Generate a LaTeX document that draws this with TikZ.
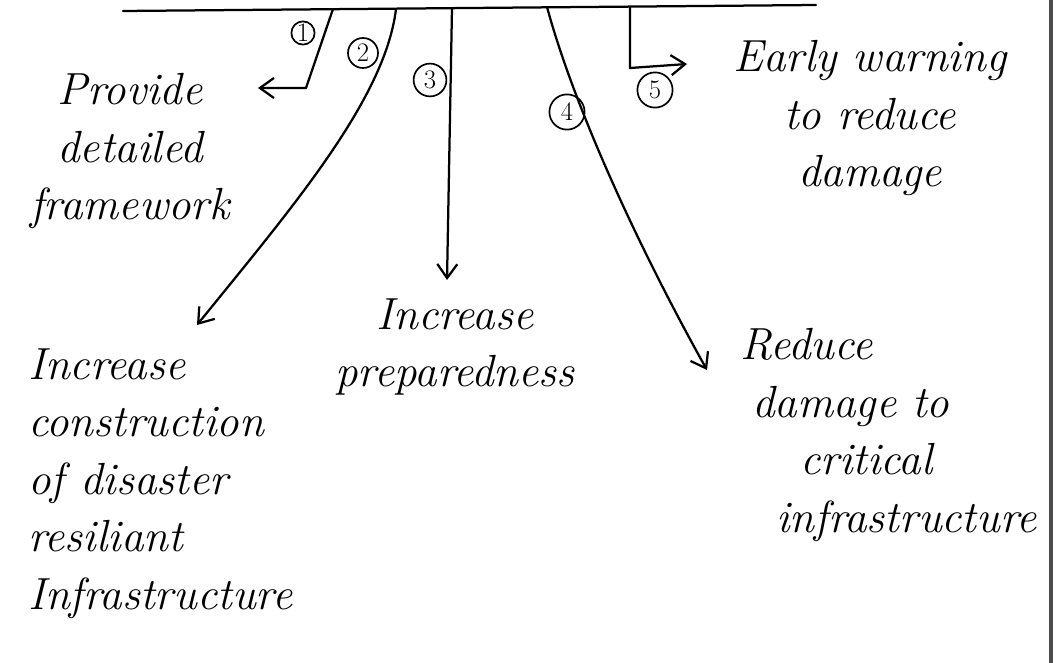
\documentclass[tikz,border=0pt]{standalone}
\usepackage{tikz}
\usetikzlibrary{arrows.meta}

\begin{document}
\begin{tikzpicture}[x=0.025cm, y=-0.025cm,
  lbl/.style={font=\fontsize{32}{41}\selectfont\itshape, inner sep=0pt},
  num/.style={draw, circle, line width=1.2pt, inner sep=0pt, font=\fontsize{19}{19}\selectfont},
  pen/.style={line width=1.6pt, line cap=round, line join=round},
  arr/.style={pen, -{Straight Barb[length=3.5mm, width=5mm]}}
]
\useasboundingbox (0,0) rectangle (1058,663);
\coordinate (tl) at (123,11); \coordinate (tr) at (816,5);
\draw[pen] (tl) -- (tr);
\draw[line width=3pt, black!70] (1051,0) -- (1051,663);
\coordinate (b1) at (333,9); \coordinate (k1) at (306,88); \coordinate (e1) at (258,88);
\coordinate (b2) at (396,9); \coordinate (e2) at (197,325);
\coordinate (b3) at (452,8); \coordinate (e3) at (447,280);
\coordinate (b4) at (547,7); \coordinate (e4) at (707,370);
\coordinate (b5) at (630,7); \coordinate (k5) at (630,68); \coordinate (e5) at (687,64);
\draw[arr] (b1) -- (k1) -- (e1);
\draw[arr] (b2) .. controls (385,100) and (290,210) .. (e2);
\draw[arr] (b3) -- (e3);
\draw[arr] (b4) .. controls (575,110) and (640,250) .. (e4);
\draw[arr] (b5) -- (k5) -- (e5);
\foreach \n/\x/\y/\s in {1/303/33/0.58cm, 2/363/53/0.75cm, 3/430/80/0.82cm, 4/567/112/0.88cm, 5/655/90/0.88cm} {
  \node[num, minimum size=\s] (c\n) at (\x,\y) {\n};
}
\node[lbl, align=center, anchor=north] (prov) at (130,73) {Provide\\detailed\\framework};
\node[lbl, align=center, anchor=north] (warn) at (870,40) {Early warning\\to reduce\\damage};
\node[lbl, align=center, anchor=north] (prep) at (455,298) {Increase\\preparedness};
\node[lbl, align=left, anchor=north west] (cons) at (28,348) {Increase\\construction\\of disaster\\resiliant\\Infrastructure};
\node[lbl, align=left, anchor=north west] (crit) at (740,328) {Reduce\\\hspace*{0.3cm}damage to\\\hspace*{1.5cm}critical\\\hspace*{0.9cm}infrastructure};
\end{tikzpicture}
\end{document}
